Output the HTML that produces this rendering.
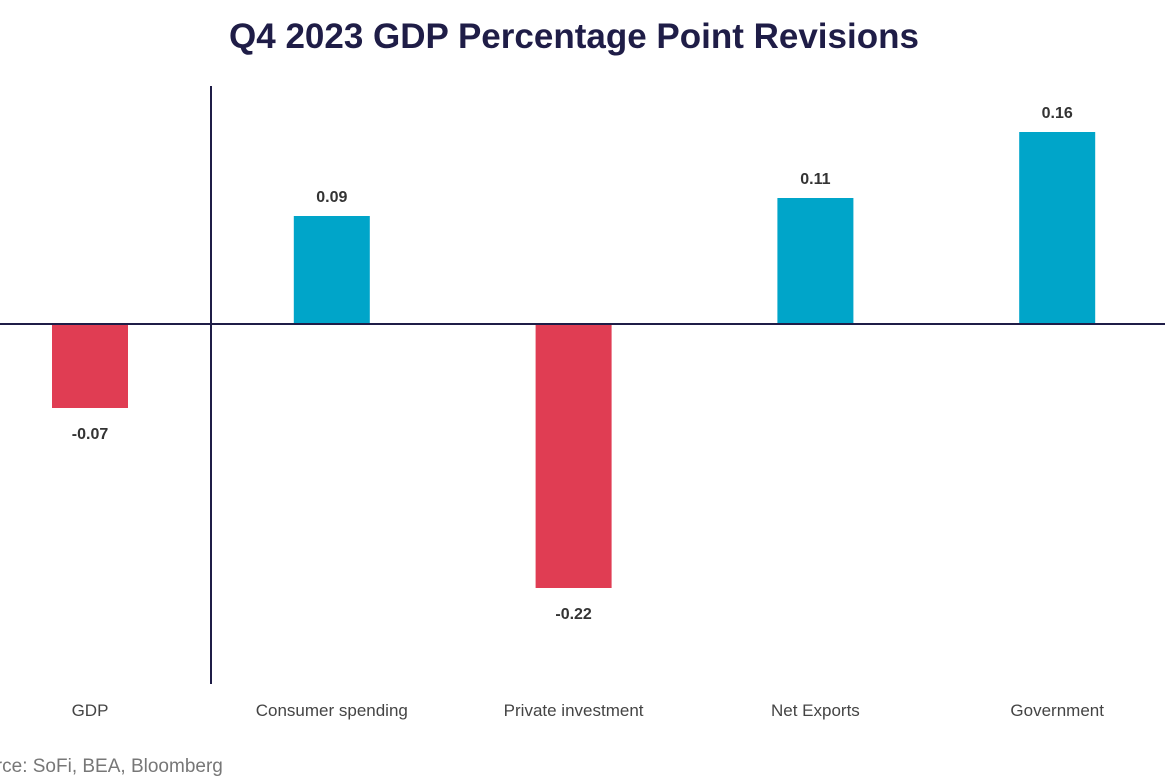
<!DOCTYPE html>
<html><head><meta charset="utf-8"><style>
body{margin:0;background:#fff;width:1165px;height:776px;overflow:hidden;font-family:"Liberation Sans",sans-serif}
</style></head><body>
<svg width="1165" height="776">
<text x="574" y="48" text-anchor="middle" font-size="35" font-weight="bold" fill="#1f1d47">Q4 2023 GDP Percentage Point Revisions</text>
<g id="bars"></g>
<line x1="0" y1="324" x2="1165" y2="324" stroke="#1f1d47" stroke-width="2"/>
<line x1="211" y1="86" x2="211" y2="684" stroke="#1f1d47" stroke-width="2"/>
<text x="-38" y="772" font-size="19" fill="#777">Source: SoFi, BEA, Bloomberg</text>
</svg>
<script>
const categories=["GDP","Consumer spending","Private investment","Net Exports","Government"];
const values=[-0.07,0.09,-0.22,0.105,0.16];
const valueLabels=["-0.07","0.09","-0.22","0.11","0.16"];
const NS="http://www.w3.org/2000/svg";
const g=document.getElementById('bars');
const zeroY=324, scale=1200;
function yOf(v){return zeroY - v*scale;}
function xOf(i){return 90 + i*241.8;}
const bw=76;
categories.forEach((c,i)=>{
  const v=values[i],x=xOf(i),y=yOf(v);
  const r=document.createElementNS(NS,'rect');
  r.setAttribute('x',x-bw/2);r.setAttribute('y',Math.min(y,zeroY));
  r.setAttribute('width',bw);r.setAttribute('height',Math.abs(y-zeroY));
  r.setAttribute('fill',v>=0?'#00a5c9':'#e03d53');
  
  
  g.appendChild(r);
  const t=document.createElementNS(NS,'text');
  t.setAttribute('x',x);t.setAttribute('y',v>=0?y-14:y+31);
  t.setAttribute('text-anchor','middle');t.setAttribute('font-size','16');
  t.setAttribute('font-weight','bold');t.setAttribute('fill','#333');
  t.textContent=valueLabels[i];
  
  
  g.appendChild(t);
  const l=document.createElementNS(NS,'text');
  l.setAttribute('x',x);l.setAttribute('y',716);
  l.setAttribute('text-anchor','middle');l.setAttribute('font-size','17');l.setAttribute('fill','#444');
  l.textContent=c;
  
  
  g.appendChild(l);
});
</script>
</body></html>
